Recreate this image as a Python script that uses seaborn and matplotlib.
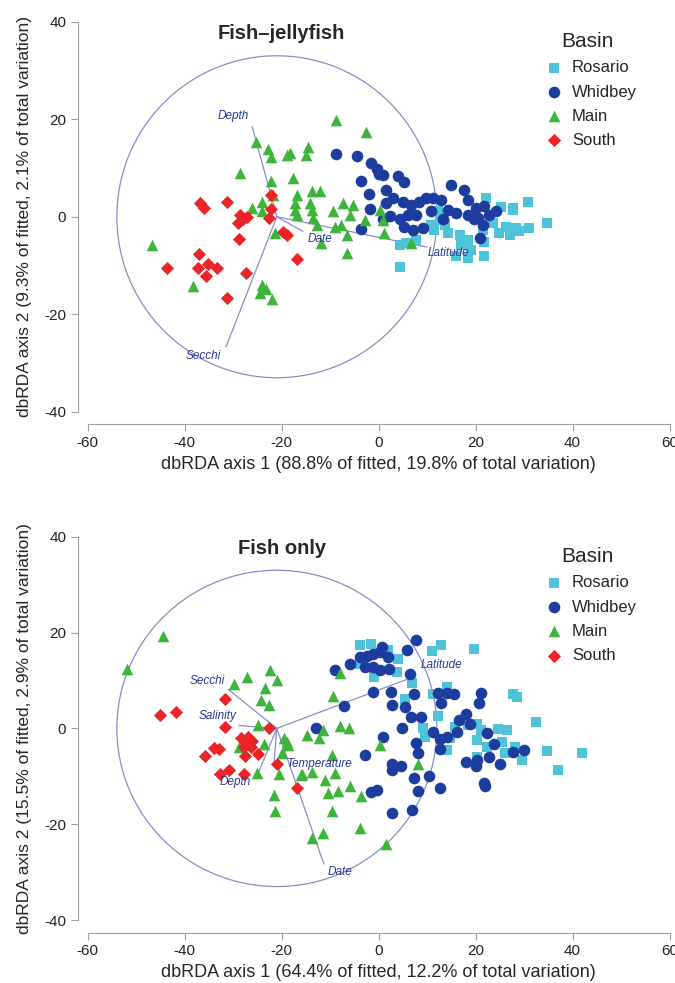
import matplotlib
matplotlib.use('Agg')
import matplotlib.pyplot as plt
import seaborn as sns
import pandas as pd
from matplotlib.patches import Circle

# ---- panel A: fish-jellyfish ----
a_rosario_x = [12.2, 12.6, 10.8, 13.6, 4.3, 5.7, 7.8, 4.3, 18.4, 19.1, 18.4, 21.8, 21.8, 22.2, 25.2, 27.7,
               30.7, 34.8, 31.1, 28.3, 26.3, 24.9, 27.0, 29.0, 23.5, 16.7, 17.0, 21.5, 11.5, 14.3, 27.6, 16.0]
a_rosario_y = [1.1, -0.6, -1.6, -1.6, -5.7, -5.4, -4.7, -10.2, -4.7, -6.8, -8.5, -8.1, -5.1, 3.8, 2.1, 1.4,
               3.1, -1.3, -2.3, -2.3, -2.0, -3.3, -3.7, -3.0, -1.3, -3.7, -5.7, -2.7, -2.7, -3.3, 1.8, -8.0]
a_whidbey_x = [-8.9, -4.4, -1.6, -0.4, 0.0, -3.6, 0.9, 4.0, 5.3, 1.6, 2.9, -2.0, 1.6, -1.8, 2.3, 0.9, -3.6,
               5.0, 6.7, 6.0, 8.4, 7.8, 5.3, 7.1, 9.1, 9.8, 11.2, 12.9, 14.3, 10.8, 15.0, 17.7, 18.4, 20.1,
               18.4, 20.4, 21.5, 22.8, 24.2, 20.8, 13.3, 16.0, 19.6, 21.8, 4.4]
a_whidbey_y = [12.8, 12.4, 11.1, 9.7, 8.7, 7.3, 8.6, 8.4, 7.2, 5.5, 3.8, 4.6, 2.8, 1.5, 0.1, -0.5, -2.5,
               3.1, 2.5, 0.4, 3.1, 0.4, -2.0, -2.7, -2.3, 3.8, 3.8, 3.5, 1.4, 1.1, 6.6, 5.5, 3.5, 1.8,
               0.4, -0.3, -1.6, 0.4, 1.1, -4.4, -0.5, 0.8, -0.5, 2.2, -0.5]
a_main_x = [-46.7, -38.2, -28.6, -26.2, -24.1, -24.1, -25.3, -22.8, -22.3, -19.0, -18.3, -14.6, -14.9,
            -22.3, -17.6, -21.7, -16.9, -17.3, -17.3, -16.9, -13.8, -12.1, -14.2, -13.8, -13.5, -12.8,
            -9.4, -7.3, -5.3, -6.0, -9.1, -7.7, -6.5, -6.6, -11.8, -21.4, -2.9, 0.2, 0.8, 1.2, -8.7,
            -2.7, -24.0, -23.3, -22.0, -24.4, 6.7]
a_main_y = [-5.7, -14.2, 9.0, 1.8, 3.1, 1.1, 15.3, 13.8, 12.3, 12.7, 13.1, 14.2, 12.7,
            7.3, 7.9, 4.5, 4.5, 2.8, 1.4, 0.4, 5.2, 5.2, 2.8, 1.4, -0.3, -1.6,
            1.1, 2.8, 2.5, 0.4, -2.0, -1.6, -3.7, -7.5, -5.4, -3.4, -0.6, 1.4, -0.6, -3.3, 19.9,
            17.3, -13.9, -14.9, -16.9, -15.6, -5.3]
a_south_x = [-36.8, -36.0, -31.3, -28.6, -27.2, -29.0, -28.8, -37.0, -43.6, -37.2, -35.2, -33.4, -35.6,
             -27.4, -31.3, -22.3, -22.3, -22.6, -19.7, -19.0, -16.9, -28.0]
a_south_y = [2.9, 1.8, 3.1, 0.4, 0.0, -1.2, -4.5, -7.6, -10.5, -10.5, -9.6, -10.5, -12.1,
             -11.5, -16.7, 4.5, 1.6, -0.2, -3.1, -3.7, -8.6, -0.4]
a_vec_names = ['Depth', 'Secchi', 'Date', 'Latitude']
a_vec_x = [-26.1, -31.5, -15.6, 9.9]
a_vec_y = [18.5, -26.7, -3.0, -6.2]
a_lab_x = [-30.0, -36.2, -12.0, 14.4]
a_lab_y = [20.6, -28.6, -4.5, -7.4]

# ---- panel B: fish only ----
b_rosario_x = [-3.8, -1.6, 2.0, 4.0, 3.7, -1.0, -3.8, 11.1, 12.9, 19.7, 6.8, 5.5, 11.3, 14.0, 12.2, 9.1,
               9.5, 15.7, 14.8, 14.0, 18.4, 20.2, 21.1, 20.2, 24.6, 26.4, 25.5, 28.2, 26.0, 29.5, 22.4,
               27.7, 28.6, 32.4, 34.8, 37.0, 42.0, 20.2]
b_rosario_y = [17.4, 17.6, 16.3, 14.5, 11.7, 10.7, 13.4, 16.1, 17.4, 16.6, 9.4, 6.2, 7.2, 8.6, 2.6, 0.0,
               -1.7, 0.3, -2.1, -4.5, 0.7, 1.0, -0.3, -2.4, -0.2, -0.3, -2.8, -3.8, -5.2, -6.6, -3.8,
               7.2, 6.6, 1.4, -4.8, -8.6, -5.2, -5.9]
b_whidbey_x = [7.6, 5.8, -3.8, -2.5, -1.2, 0.2, 0.6, 2.0, -6.0, -2.9, -1.2, 0.2, -9.0, 2.2, 6.4, -1.2,
               2.6, 7.3, -7.2, 2.8, 5.5, 6.7, 8.8, 4.9, 12.2, 14.0, 15.6, 12.9, 21.2, 20.6, 18.0, 16.6,
               18.8, 16.2, 11.3, 12.6, 14.0, 22.4, 23.7, 22.8, 25.1, 27.7, 30.0, 20.2, 18.0, 20.0, 21.8,
               22.0, 7.6, 8.2, 12.6, -12.9, 0.8, -2.9, 2.8, 2.8, 4.6, 7.3, 10.4, 12.6, 8.2, -1.6, -0.3,
               2.8, 6.8]
b_whidbey_y = [18.4, 16.3, 14.8, 15.2, 15.5, 15.9, 16.9, 14.8, 13.4, 12.8, 12.8, 12.1, 12.1, 12.4, 11.4, 7.6,
               7.6, 7.2, 4.6, 4.8, 4.5, 2.4, 2.4, 0.0, 7.4, 7.4, 7.2, 5.2, 7.4, 5.4, 3.0, 1.7,
               1.0, -0.7, -0.7, -2.3, -1.7, -1.0, -3.2, -5.9, -7.4, -5.0, -4.5, -6.6, -7.1, -7.9, -11.4,
               -12.1, -3.1, -5.2, -4.3, 0.0, -1.7, -5.5, -7.4, -8.6, -7.9, -10.3, -9.9, -12.4, -13.1, -13.3, -12.9,
               -17.6, -17.0]
b_main_x = [-52.0, -44.5, -29.8, -27.1, -22.4, -21.0, -23.4, -24.2, -22.7, -24.9, -28.9, -23.7, -19.6,
            -18.6, -14.8, -12.4, -11.4, -8.0, -6.2, -20.0, -9.7, -25.1, -20.5, -15.8, -13.8, -11.0,
            -9.0, -21.5, -21.3, -10.4, -8.3, -5.9, -3.6, -9.7, -3.8, -13.8, -11.4, 1.6, 0.3, 8.2,
            -9.5, -8.0, -18.9, -16.1]
b_main_y = [12.4, 19.3, 9.3, 10.7, 12.2, 10.1, 8.4, 6.0, 4.8, 0.8, -3.8, -3.3, -2.0,
            -3.4, -1.3, -2.1, -0.3, 0.4, 0.1, -5.1, -5.5, -9.3, -9.6, -9.6, -9.0, -10.7,
            -9.3, -13.8, -17.3, -13.5, -13.1, -12.1, -14.2, -17.3, -20.8, -22.9, -21.8, -24.2, -3.4, -7.4,
            6.7, 11.5, -2.8, -9.7]
b_south_x = [-45.2, -41.9, -31.6, -31.7, -22.7, -28.3, -26.9, -26.2, -27.4, -27.8, -26.4, -34.0, -32.9,
             -35.9, -27.6, -24.9, -21.0, -30.9, -32.7, -27.8, -16.9]
b_south_y = [2.7, 3.5, 6.1, 0.2, 0.1, -2.1, -1.7, -2.6, -3.1, -3.8, -3.8, -4.0, -4.3,
             -5.8, -5.7, -5.4, -7.4, -8.6, -9.6, -9.5, -12.4]
b_vec_names = ['Secchi', 'Salinity', 'Depth', 'Temperature', 'Date', 'Latitude']
b_vec_x = [-31.0, -28.8, -24.7, -21.6, -11.3, 6.0]
b_vec_y = [8.1, 0.6, -9.0, -7.3, -28.3, 10.3]
b_lab_x = [-35.4, -33.3, -29.6, -12.1, -8.0, 13.0]
b_lab_y = [9.8, 2.5, -11.2, -7.4, -30.0, 13.2]

basins = ['Rosario', 'Whidbey', 'Main', 'South']
colors = {'Rosario': '#4ec3da', 'Whidbey': '#1c3c9e', 'Main': '#3db43a', 'South': '#ea2427'}
markers = {'Rosario': 's', 'Whidbey': 'o', 'Main': '^', 'South': 'D'}
sizes = {'Rosario': 55, 'Whidbey': 70, 'Main': 70, 'South': 45}


def make_df(xs, ys):
    rows = []
    for b, x, y in zip(basins, xs, ys):
        for xi, yi in zip(x, y):
            rows.append({'x': xi, 'y': yi, 'Basin': b})
    return pd.DataFrame(rows)


df_a = make_df([a_rosario_x, a_whidbey_x, a_main_x, a_south_x],
               [a_rosario_y, a_whidbey_y, a_main_y, a_south_y])
df_b = make_df([b_rosario_x, b_whidbey_x, b_main_x, b_south_x],
               [b_rosario_y, b_whidbey_y, b_main_y, b_south_y])

sns.set_style('white')
plt.rcParams['font.family'] = ['Liberation Sans', 'DejaVu Sans']
plt.rcParams['axes.unicode_minus'] = False

fig = plt.figure(figsize=(6.75, 9.83), dpi=100)
ax1 = fig.add_axes([0.130, 0.581, 0.862, 0.397])
ax2 = fig.add_axes([0.130, 0.064, 0.862, 0.390])

line_col = '#8a8ccc'
lab_col = '#2b3a99'


def draw_panel(ax, df, vx, vy, names, lx, ly, title, xlabel, ylabel):
    ax.add_patch(Circle((-21, 0), 33, fill=False, edgecolor=line_col, lw=0.9, zorder=1))
    for x, y in zip(vx, vy):
        ax.plot([-21, x], [0, y], color=line_col, lw=0.9, zorder=1)
    for b in basins:
        d = df[df['Basin'] == b]
        sns.scatterplot(data=d, x='x', y='y', ax=ax, color=colors[b], marker=markers[b],
                        s=sizes[b], linewidth=0, label=b, zorder=3)
    for n, x, y in zip(names, lx, ly):
        ax.text(x, y, n, color=lab_col, fontsize=8.5, style='italic', ha='center', va='center', zorder=4)
    ax.text(-20, 37.5, title, fontsize=14.5, fontweight='bold', ha='center', va='center')
    ax.set_xlim(-60, 60)
    ax.set_ylim(-40, 40)
    ax.set_xticks([-60, -40, -20, 0, 20, 40, 60])
    ax.set_yticks([-40, -20, 0, 20, 40])
    ax.set_xlabel(xlabel, fontsize=13, labelpad=4)
    ax.set_ylabel(ylabel, fontsize=12.5, labelpad=9)
    sns.despine(ax=ax, offset={'left': 7, 'bottom': 9})
    for sp in ['left', 'bottom']:
        ax.spines[sp].set_color('#a0a0a0')
        ax.spines[sp].set_linewidth(0.8)
    ax.tick_params(axis='both', which='both', direction='out', length=5, width=0.8,
                   color='#a0a0a0', labelsize=11, labelcolor='#222222', left=True, bottom=True)
    leg = ax.legend(title='Basin', loc='upper left', bbox_to_anchor=(0.762, 0.99), frameon=False,
                    fontsize=12, title_fontsize=15, handletextpad=0.05, labelspacing=0.55,
                    borderaxespad=0, markerscale=1.0)
    leg._legend_box.align = 'center'


draw_panel(ax1, df_a, a_vec_x, a_vec_y, a_vec_names, a_lab_x, a_lab_y, 'Fish\u2013jellyfish',
           'dbRDA axis 1 (88.8% of fitted, 19.8% of total variation)',
           'dbRDA axis 2 (9.3% of fitted, 2.1% of total variation)')
draw_panel(ax2, df_b, b_vec_x, b_vec_y, b_vec_names, b_lab_x, b_lab_y, 'Fish only',
           'dbRDA axis 1 (64.4% of fitted, 12.2% of total variation)',
           'dbRDA axis 2 (15.5% of fitted, 2.9% of total variation)')

fig.savefig('out.png', dpi=100)
